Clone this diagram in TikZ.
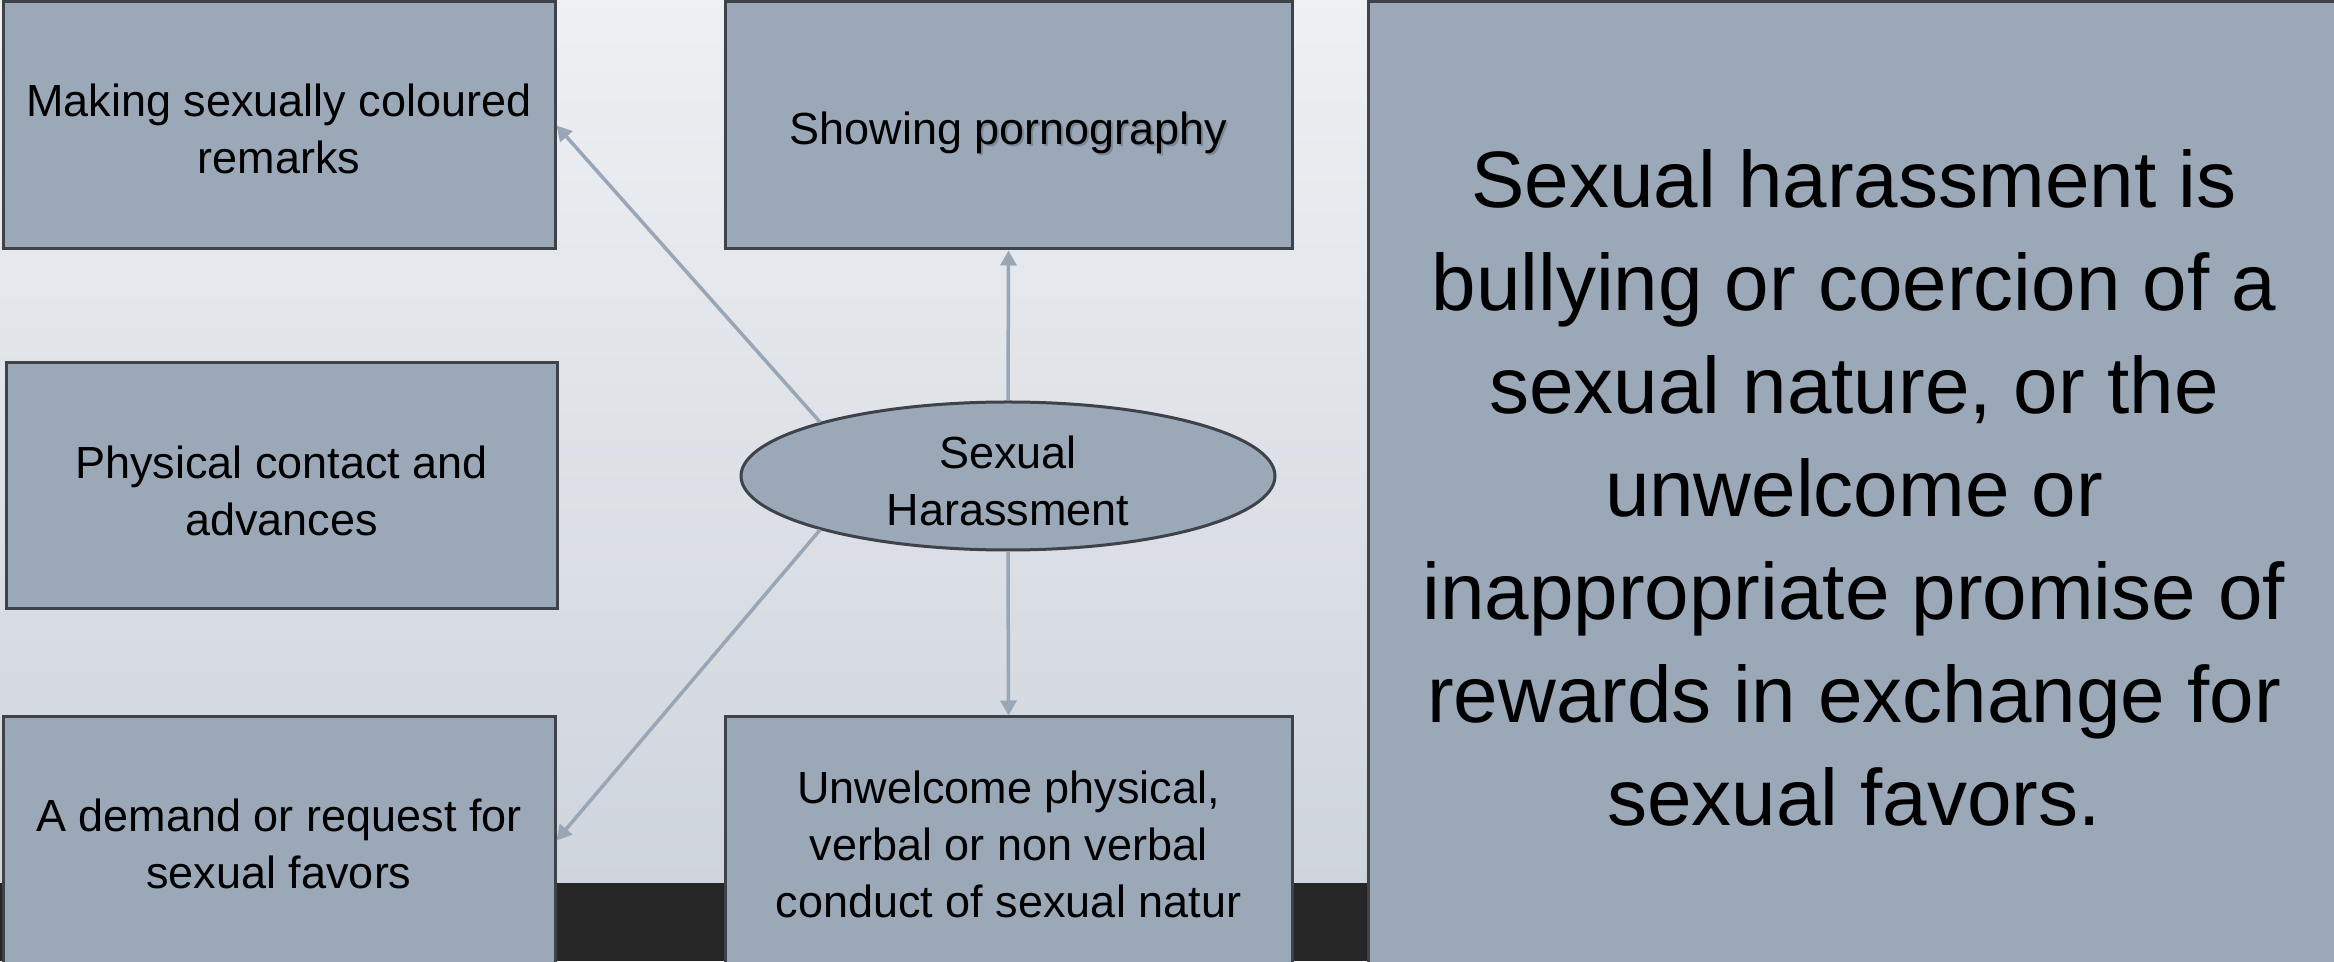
\documentclass[tikz,border=0pt]{standalone}
\usepackage{fontspec}
\setmainfont{Liberation Sans}
\usetikzlibrary{shapes.geometric,arrows.meta}

\definecolor{boxfill}{HTML}{9AA8B8}
\definecolor{boxline}{HTML}{3E4249}
\definecolor{linkcol}{HTML}{98A6B6}
\definecolor{bgtop}{HTML}{EEF0F3}
\definecolor{bgbottom}{HTML}{CFD5DD}
\definecolor{bandcol}{HTML}{262626}
\definecolor{shadowcol}{HTML}{7D8896}

% word with a soft drop shadow behind it
\newcommand\shadowedword[1]{\rlap{\raisebox{-2pt}{\hspace{2pt}\textcolor{shadowcol}{#1}}}#1}

\tikzset{
  itembox/.style={draw=boxline, line width=3pt, fill=boxfill, inner sep=0pt},
  itemtext/.style={inner sep=0pt, align=center, text=black,
    font=\fontsize{45}{57}\selectfont},
  deftext/.style={itemtext, font=\fontsize{80}{103}\selectfont},
  hub/.style={ellipse, draw=boxline, line width=3pt, fill=boxfill, inner sep=0pt,
    minimum width=534pt, minimum height=148pt},
  link/.style={draw=linkcol, line width=3.5pt,
    -{Triangle[length=15pt,width=16pt]}}
}

\begin{document}
\begin{tikzpicture}[x=1pt,y=1pt]
  \useasboundingbox (0,0) rectangle (2334,961);
  \clip (0,0) rectangle (2334,961);

  % slide background and dark footer band
  \shade[top color=bgtop, bottom color=bgbottom] (0,78) rectangle (2334,961);
  \fill[bandcol] (0,0) rectangle (2334,78);

  % boxes
  \node[itembox, minimum width=552pt, minimum height=247pt] (remarks) at (279,835.5) {};
  \node[itembox, minimum width=567pt, minimum height=247pt] (porn) at (1008.5,835.5) {};
  \node[itembox, minimum width=551pt, minimum height=246pt] (contact) at (281.5,475) {};
  \node[itembox, minimum width=552pt, minimum height=247pt] (favors) at (279,120.5) {};
  \node[itembox, minimum width=567pt, minimum height=247pt] (conduct) at (1008.5,120.5) {};
  \node[itembox, minimum width=972pt, minimum height=972pt] (definition) at (1854,473) {};

  % box texts
  \node[itemtext] (remarks-text) at ([yshift=-3pt]remarks.center)
    {Making sexually coloured\\remarks};
  \node[itemtext] (porn-text) at ([yshift=-8pt]porn.center)
    {Showing \shadowedword{pornography}};
  \node[itemtext] (contact-text) at ([yshift=-4.5pt]contact.center)
    {Physical contact and\\advances};
  \node[itemtext] (favors-text) at ([yshift=-3pt]favors.center)
    {A demand or request for\\sexual favors};
  \node[itemtext] (conduct-text) at ([yshift=-3.5pt]conduct.center)
    {Unwelcome physical,\\verbal or non verbal\\conduct of sexual natur};
  \node[deftext] (definition-text) at (definition.center)
    {Sexual harassment is\\bullying or coercion of a\\sexual nature, or the\\unwelcome or\\inappropriate promise of\\rewards in exchange for\\sexual favors.};

  % central topic
  \node[hub] (topic) at (1008,485) {};
  \node[itemtext] (topic-text) at ([yshift=-4.5pt]topic.center) {Sexual\\Harassment};

  % connectors
  \draw[link] (topic.164) -- (remarks.east);
  \draw[link] (topic.196) -- (favors.east);
  \draw[link] (topic.north) -- (porn.south);
  \draw[link] (topic.south) -- (conduct.north);
\end{tikzpicture}
\end{document}
